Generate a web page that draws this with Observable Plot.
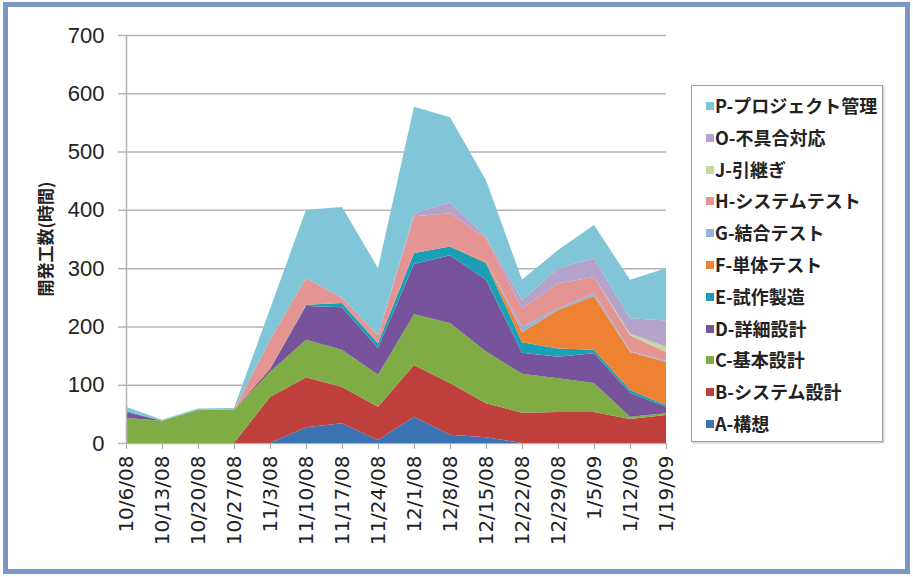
<!DOCTYPE html>
<html>
<head>
<meta charset="utf-8">
<script src="https://cdn.jsdelivr.net/npm/d3@7"></script>
<script src="https://cdn.jsdelivr.net/npm/@observablehq/plot@0.6"></script>
<style>
  html, body { margin: 0; padding: 0; background: #fff; }
  #wrap { position: relative; width: 913px; height: 577px; overflow: hidden; }
  #chart { position: absolute; left: 0; top: 0; }
  #frame { position: absolute; left: 3px; top: 2px; width: 907px; height: 572px; box-sizing: border-box;
           border: 5px solid #7b97c6; pointer-events: none; z-index: 5; }
  #ylabel { position: absolute; left: 44px; top: 239px; transform: translate(-50%, -50%) rotate(-90deg);
            font-family: "Noto Sans CJK JP", sans-serif; font-size: 17px; font-weight: bold; color: #222;
            white-space: nowrap; z-index: 3; }
  #legend { position: absolute; left: 691px; top: 85px; width: 192px; height: 357px; box-sizing: border-box;
            border: 1px solid #a0a0a0; box-shadow: 1px 1px 2px rgba(0,0,0,0.25); background: #fff;
            padding-top: 4px; z-index: 3; }
  .item { position: relative; height: 31.8px; line-height: 31.8px; padding-left: 23px;
          font-family: "Noto Sans CJK JP", sans-serif; font-size: 18px; font-weight: bold; color: #222; white-space: nowrap; }
  .sw { position: absolute; left: 14px; top: 12px; width: 8px; height: 8px; }
  g[aria-label="x-axis tick"] { stroke: #a8a8a8; }
</style>
</head>
<body>
<div id="wrap">
  <div id="chart"></div>
  <div id="ylabel"></div>
  <div id="legend"></div>
  <div id="frame"></div>
</div>
<script>
const dates = ["10/6/08","10/13/08","10/20/08","10/27/08","11/3/08","11/10/08","11/17/08","11/24/08",
               "12/1/08","12/8/08","12/15/08","12/22/08","12/29/08","1/5/09","1/12/09","1/19/09"];
const series = ["A-構想","B-システム設計","C-基本設計","D-詳細設計","E-試作製造","F-単体テスト",
                "G-結合テスト","H-システムテスト","J-引継ぎ","O-不具合対応","P-プロジェクト管理"];
const colors = ["#3c74b3","#c0403e","#80ac46","#77539b","#1aa0b6","#ef8232",
                "#95b3d9","#e49593","#c3d89c","#b5a3cb","#80c5d8"];
const valA = [0,0,0,0,0,27,34,5,45,14,10,0,0,0,0,0];
const valB = [0,0,0,0,79,86,62,57,89,89,58,52,53,53,41,48];
const valC = [43,38,57,57,43,64,64,55,87,103,89,67,58,50,4,3];
const valD = [10,0,0,0,5,58,73,46,86,116,123,36,37,51,41,11];
const valE = [2,0,0,0,0,2,7,8,19,15,29,18,14,6,5,3];
const valF = [0,0,0,0,0,0,0,0,0,0,2,17,66,92,65,74];
const valG = [0,0,0,0,0,0,0,0,0,0,0,9,3,5,2,2];
const valH = [0,0,0,0,50,46,9,14,63,57,40,32,43,28,27,15];
const valJ = [0,0,0,0,0,0,0,0,0,0,0,0,0,0,3,9];
const valO = [0,0,0,0,0,0,0,0,5,19,3,14,26,32,26,45];
const valP = [7,2,2,3,53,117,156,115,183,146,97,35,31,57,66,90];
const yTicks = [0,100,200,300,400,500,600,700];
const yLabel = "開発工数(時間)";

const allVals = [valA,valB,valC,valD,valE,valF,valG,valH,valJ,valO,valP];
const rows = [];
dates.forEach((d, i) => series.forEach((s, j) => rows.push({date: d, series: s, value: allVals[j][i]})));

const chart = Plot.plot({
  width: 913, height: 577,
  marginLeft: 126, marginRight: 247, marginTop: 35, marginBottom: 134,
  style: {color: "#222", background: "transparent"},
  x: {type: "point", domain: dates, padding: 0},
  y: {domain: [0, 700]},
  color: {domain: series, range: colors},
  marks: [
    Plot.ruleY(yTicks, {stroke: "#b4b4b4", strokeWidth: 1.5, insetLeft: -8}),
    Plot.areaY(rows, {x: "date", y: "value", z: "series", fill: "series"}),
    Plot.ruleX([dates[0]], {stroke: "#b4b4b4", strokeWidth: 1.5}),
    Plot.axisY(yTicks, {tickSize: 0, tickPadding: 22, fontSize: 22, fontFamily: "Liberation Sans, Arial, sans-serif", label: null}),
    Plot.axisX({tickRotate: -90, tickSize: 6, tickPadding: 6, fontSize: 20, fontFamily: "DejaVu Sans, Verdana, sans-serif", label: null})
  ]
});
document.getElementById("chart").appendChild(chart);
document.getElementById("ylabel").textContent = yLabel;

const legend = document.getElementById("legend");
series.slice().reverse().forEach(s => {
  const it = document.createElement("div");
  it.className = "item";
  const sw = document.createElement("span");
  sw.className = "sw";
  sw.style.background = colors[series.indexOf(s)];
  it.appendChild(sw);
  it.appendChild(document.createTextNode(s));
  legend.appendChild(it);
});
</script>
</body>
</html>
